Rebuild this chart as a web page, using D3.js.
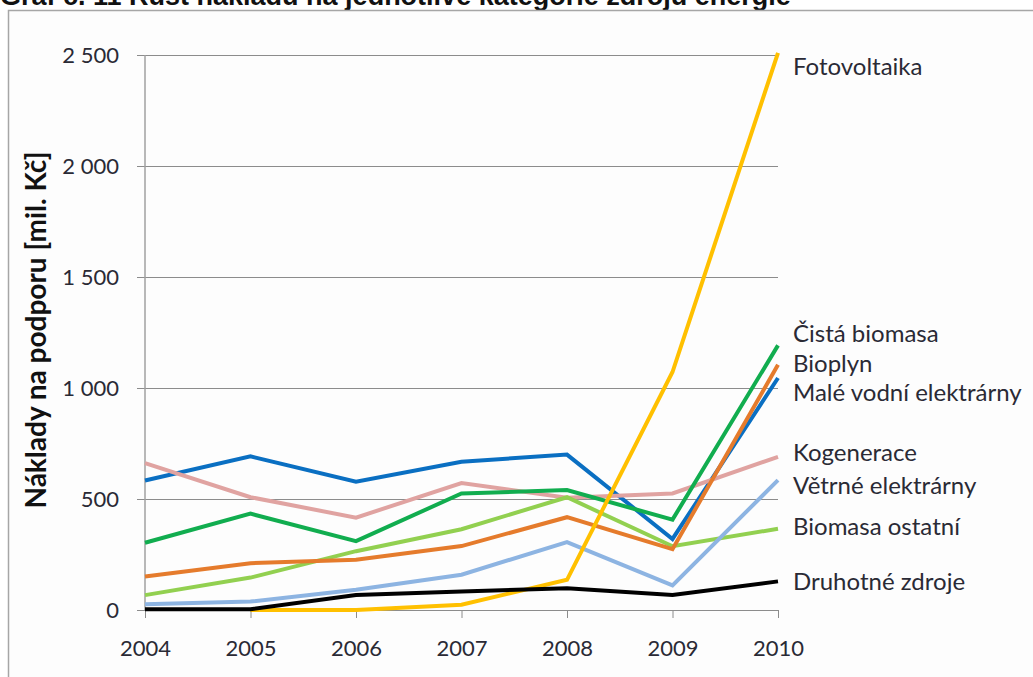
<!DOCTYPE html>
<html>
<head>
<meta charset="utf-8">
<script src="https://cdn.jsdelivr.net/npm/d3@7"></script>
<style>
  body { margin: 0; background: #fff; }
  svg { display: block; }
</style>
</head>
<body>
<div id="chart"></div>
<script>
// years on the category axis
var years = [2004, 2005, 2006, 2007, 2008, 2009, 2010];

// costs of support per category [mil. Kč]
var maleVodni = [583, 692, 578, 668, 700, 320, 1045];
var kogenerace = [662, 508, 416, 572, 506, 525, 690];
var cistaBiomasa = [303, 434, 310, 525, 540, 407, 1192];
var biomasaOstatni = [67, 146, 265, 364, 508, 287, 366];
var bioplyn = [151, 211, 226, 288, 418, 274, 1105];
var vetrne = [26, 38, 91, 159, 306, 111, 585];
var fotovoltaika = [null, 0, 0, 24, 136, 1072, 2510];
var druhotne = [3, 3, 68, 83, 98, 68, 129];

var yTicks = [0, 500, 1000, 1500, 2000, 2500];

// draw order and label positions (value the label sits next to)
var series = [
  {name: "Malé vodní elektrárny", values: maleVodni, color: "#0a6fc2", labelAt: 980},
  {name: "Kogenerace", values: kogenerace, color: "#e0a3a1", labelAt: 710},
  {name: "Čistá biomasa", values: cistaBiomasa, color: "#11ad4f", labelAt: 1245},
  {name: "Biomasa ostatní", values: biomasaOstatni, color: "#92d050", labelAt: 375},
  {name: "Bioplyn", values: bioplyn, color: "#e57b2c", labelAt: 1112},
  {name: "Větrné elektrárny", values: vetrne, color: "#8db4e2", labelAt: 562},
  {name: "Fotovoltaika", values: fotovoltaika, color: "#ffc000", labelAt: 2450},
  {name: "Druhotné zdroje", values: druhotne, color: "#000000", labelAt: 130}
];

var W = 1033, H = 677;
var margin = {top: 55, right: 255, bottom: 67, left: 145};
var width = W - margin.left - margin.right,
    height = H - margin.top - margin.bottom;

var svg = d3.select("#chart").append("svg")
  .attr("width", W)
  .attr("height", H);

// title (cut off at the top edge)
svg.append("text")
  .attr("x", 0)
  .attr("y", 5)
  .attr("font-family", "Liberation Sans, Arial, sans-serif")
  .attr("font-weight", "bold")
  .attr("font-size", 27)
  .attr("fill", "#111")
  .text("Graf č. 11 Růst nákladů na jednotlivé kategorie zdrojů energie");

// frame
svg.append("rect")
  .attr("x", 8.5).attr("y", 10.5)
  .attr("width", W + 10).attr("height", H + 10)
  .attr("fill", "#fdfdfd")
  .attr("stroke", "#a6a6a6")
  .attr("stroke-width", 1.5);

var g = svg.append("g")
  .attr("transform", "translate(" + margin.left + "," + margin.top + ")");

var x = d3.scalePoint().domain(years).range([0, width]);
var y = d3.scaleLinear().domain([0, 2500]).range([height, 0]);

var fmt = function(d) { return d3.format(",")(d).replace(",", " "); };

// y axis with gridlines
var yAxis = g.append("g")
  .call(d3.axisLeft(y).tickValues(yTicks).tickSize(-width - 8).tickFormat(fmt).tickPadding(18))
  .attr("transform", "translate(-8,0)");
yAxis.select(".domain").remove();
yAxis.selectAll(".tick line").attr("stroke", "#8c8c8c").attr("stroke-width", 1);
yAxis.selectAll(".tick text")
  .attr("font-family", "Lato, sans-serif")
  .attr("font-size", 22)
  .attr("fill", "#2a2a35");

// vertical axis line
g.append("line")
  .attr("x1", 0).attr("x2", 0)
  .attr("y1", 0).attr("y2", height)
  .attr("stroke", "#a0a0a0").attr("stroke-width", 1.5);

// x axis
var xAxis = g.append("g")
  .attr("transform", "translate(0," + height + ")")
  .call(d3.axisBottom(x).tickSize(8).tickPadding(22));
xAxis.select(".domain").attr("stroke", "#8c8c8c");
xAxis.selectAll(".tick line").attr("stroke", "#8c8c8c");
xAxis.selectAll(".tick text")
  .attr("font-family", "Lato, sans-serif")
  .attr("font-size", 22)
  .attr("fill", "#2a2a35");

// y axis title
svg.append("text")
  .attr("transform", "translate(46,330) rotate(-90)")
  .attr("text-anchor", "middle")
  .attr("font-family", "Lato, sans-serif")
  .attr("font-weight", "bold")
  .attr("font-size", 28)
  .attr("fill", "#111")
  .text("Náklady na podporu [mil. Kč]");

// lines
var line = d3.line()
  .defined(function(d) { return d != null; })
  .x(function(d, i) { return x(years[i]); })
  .y(function(d) { return y(d); });

g.selectAll(".series")
  .data(series)
  .enter().append("path")
  .attr("class", "series")
  .attr("fill", "none")
  .attr("stroke", function(d) { return d.color; })
  .attr("stroke-width", 4)
  .attr("stroke-linejoin", "miter")
  .attr("d", function(d) { return line(d.values); });

// series labels on the right
g.selectAll(".lbl")
  .data(series)
  .enter().append("text")
  .attr("class", "lbl")
  .attr("x", width + 15)
  .attr("y", function(d) { return y(d.labelAt); })
  .attr("dy", "0.35em")
  .attr("font-family", "Lato, sans-serif")
  .attr("font-size", 24)
  .attr("fill", "#2a2a35")
  .text(function(d) { return d.name; });
</script>
</body>
</html>
